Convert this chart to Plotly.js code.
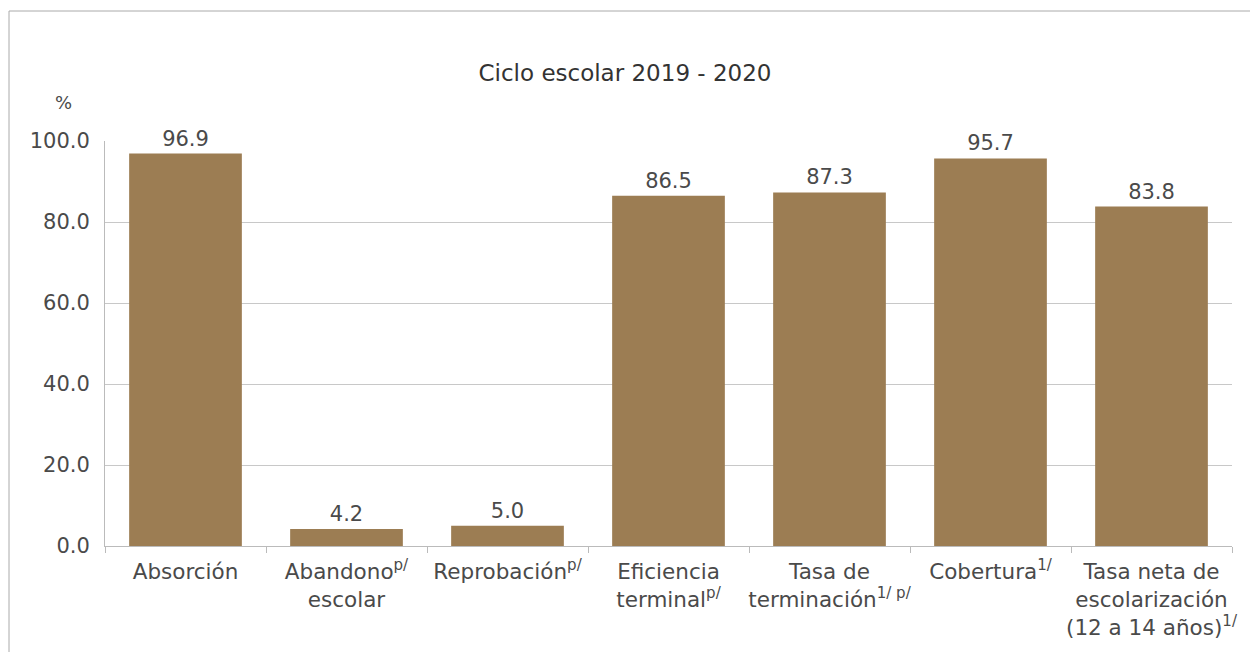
<!DOCTYPE html>
<html>
<head>
<meta charset="utf-8">
<script src="https://cdn.plot.ly/plotly-3.0.1.min.js"></script>
<style>html,body{margin:0;padding:0;background:#fff;}#chart{width:1250px;height:652px;}</style>
</head>
<body>
<div id="chart"></div>
<script>
const categories = [
  "Absorción",
  "Abandono<sup>p/</sup><br>escolar",
  "Reprobación<sup>p/</sup>",
  "Eficiencia<br>terminal<sup>p/</sup>",
  "Tasa de<br>terminación<sup>1/ p/</sup>",
  "Cobertura<sup>1/</sup>",
  "Tasa neta de<br>escolarización<br>(12 a 14 años)<sup>1/</sup>"
];
const values = [96.9, 4.2, 5.0, 86.5, 87.3, 95.7, 83.8];
const yTicks = [0, 20, 40, 60, 80, 100];
const titleText = "Ciclo escolar 2019 - 2020";
const yUnit = "%";

const fontFam = "DejaVu Sans, sans-serif";
const txtColor = "#4a4a4a";
const trace = {
  type: "bar",
  x: categories,
  y: values,
  marker: {color: "#9C7D53"},
  text: values.map(v => v.toFixed(1)),
  textposition: "outside",
  textfont: {family: fontFam, size: 21, color: txtColor},
  cliponaxis: false,
  hoverinfo: "none"
};
const layout = {
  width: 1250, height: 652,
  margin: {l: 105, r: 18, t: 141, b: 106},
  paper_bgcolor: "#fff", plot_bgcolor: "#fff",
  bargap: 0.3,
  showlegend: false,
  title: {text: titleText, x: 0.5, xref: "container", y: 1 - 73/652, yref: "container", yanchor: "middle",
          font: {family: fontFam, size: 23, color: "#333"}},
  xaxis: {
    type: "category",
    tickangle: 0,
    tickfont: {family: fontFam, size: 21.5, color: txtColor},
    showline: true, linecolor: "#bbb", linewidth: 1,
    ticks: "outside", tickson: "boundaries", ticklen: 6, tickcolor: "#bbb",
    ticklabelstandoff: 6,
    showgrid: false, automargin: false
  },
  yaxis: {
    range: [0, 100],
    tickvals: yTicks,
    ticktext: yTicks.map(v => v.toFixed(1)),
    tickfont: {family: fontFam, size: 21, color: txtColor},
    showgrid: true, gridcolor: "#c8c8c8", gridwidth: 1,
    showline: true, linecolor: "#bbb", linewidth: 1,
    zeroline: false, ticks: "", ticklabelstandoff: 10,
    automargin: false
  },
  annotations: [{
    text: yUnit, xref: "paper", yref: "paper", x: -42/1127, y: 1 + 38/405,
    showarrow: false, font: {family: fontFam, size: 18, color: txtColor}, xanchor: "center", yanchor: "middle"
  }],
  shapes: [
    {type: "line", xref: "paper", yref: "paper", x0: -96/1127, x1: 1 + 18/1127, y0: 1 + 130/405, y1: 1 + 130/405,
     line: {color: "#aaa", width: 1}},
    {type: "line", xref: "paper", yref: "paper", x0: -96/1127, x1: -96/1127, y0: 1 + 130/405, y1: -106/405,
     line: {color: "#aaa", width: 1}}
  ]
};
Plotly.newPlot("chart", [trace], layout, {displayModeBar: false, staticPlot: true});
</script>
</body>
</html>
